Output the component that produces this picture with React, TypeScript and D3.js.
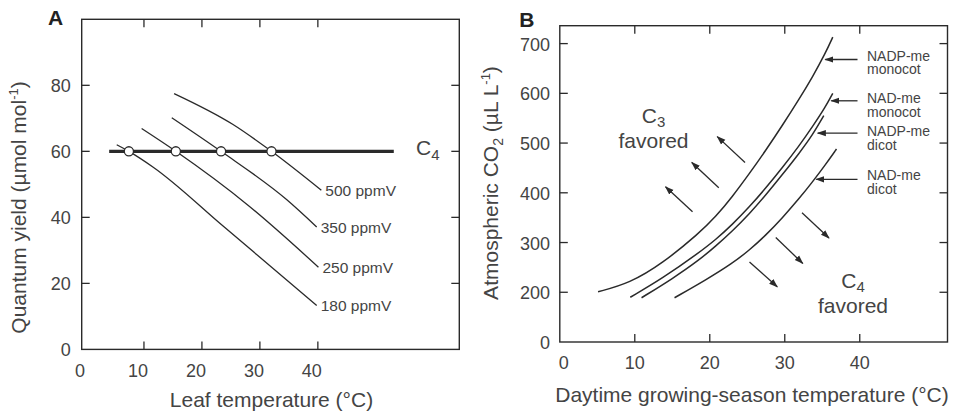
import React, { useRef, useEffect } from 'react'
import * as d3 from 'd3'

// ---- panel A: quantum yield vs leaf temperature ----
const ppmLabels = ['500 ppmV', '350 ppmV', '250 ppmV', '180 ppmV']
const tempA500 = [15.2, 25.3, 32.0, 40.6]
const yieldA500 = [77.5, 68.2, 60, 48.2]
const tempA350 = [14.8, 23.3, 34.6, 39.8]
const yieldA350 = [70.2, 60, 45.4, 37.1]
const tempA250 = [9.6, 15.5, 28.0, 40.1]
const yieldA250 = [66.9, 60, 43.6, 24.9]
const tempA180 = [5.3, 7.4, 11.6, 23.7, 39.8]
const yieldA180 = [62, 60, 55.2, 37.3, 13.3]
const c4Yield = 60
const c4TempRange = [4.0, 53.1]
const crossoverTemps = [7.4, 15.5, 23.3, 32.0]
const ticksAx = [10, 20, 30, 40]
const ticksAy = [20, 40, 60, 80]

// ---- panel B: CO2 vs growing-season temperature ----
const typeNames = ['NADP-me|monocot', 'NAD-me|monocot', 'NADP-me|dicot', 'NAD-me|dicot']
const tempNadpMono = [5.1, 9.3, 13.7, 18.6, 20.8, 23.0, 25.3, 27.5, 29.7, 31.9, 33.7, 35.4, 36.4]
const co2NadpMono = [201, 218, 258, 319, 352, 392, 439, 486, 536, 588, 633, 680, 713]
const tempNadMono = [9.4, 13.7, 18.6, 20.8, 23.0, 25.3, 27.5, 29.7, 31.9, 33.7, 35.4, 36.4]
const co2NadMono = [190, 228, 280, 306, 336, 372, 410, 451, 494, 533, 572, 600]
const tempNadpDi = [10.9, 15.1, 18.6, 20.8, 23.0, 25.3, 27.5, 29.7, 31.9, 33.7, 35.2]
const co2NadpDi = [189, 228, 265, 293, 323, 358, 396, 437, 479, 516, 555]
const tempNadDi = [15.3, 19.5, 23.0, 25.3, 27.5, 29.7, 31.9, 33.7, 35.4, 36.9]
const co2NadDi = [189, 225, 258, 285, 315, 350, 388, 422, 456, 488]
// label arrows: tip temperature / CO2 level, tails at 39.7 °C
const labelArrowTip = [35.4, 36.2, 34.4, 34.2]
const labelArrowCO2 = [668, 585, 520, 427]
const labelArrowTail = 39.7
// direction arrows [x1, y1, x2, y2] (tail -> tip)
const c3Arrows = [
  [24.7, 461, 21.0, 513],
  [21.2, 410, 17.6, 461],
  [17.7, 362, 14.1, 412],
]
const c4Arrows = [
  [32.3, 360, 35.9, 309],
  [28.8, 310, 32.4, 258],
  [25.3, 261, 29.0, 211],
]
const ticksBx = [10, 20, 30, 40]
const ticksBy = [200, 300, 400, 500, 600, 700]

const font = '"Liberation Sans", Arial, Helvetica, sans-serif'
const ink = '#2a2a2a'
const txt = '#444'

const App = () => {
  const svgRef = useRef<SVGSVGElement | null>(null)

  useEffect(() => {
    document.body.style.margin = '0'
    const svg = d3.select(svgRef.current)
    svg.selectAll('*').remove()

    const defs = svg.append('defs')
    defs
      .append('marker')
      .attr('id', 'head')
      .attr('viewBox', '0 0 10 10')
      .attr('refX', 9)
      .attr('refY', 5)
      .attr('markerWidth', 9)
      .attr('markerHeight', 9)
      .attr('markerUnits', 'userSpaceOnUse')
      .attr('orient', 'auto')
      .append('path')
      .attr('d', 'M0,1.5 L10,5 L0,8.5 Z')
      .attr('fill', ink)

    const frame = (
      g: d3.Selection<SVGGElement, unknown, null, undefined>,
      x: d3.ScaleLinear<number, number>,
      y: d3.ScaleLinear<number, number>,
      xt: number[],
      yt: number[]
    ) => {
      const [x0, x1] = x.range()
      const [y0, y1] = y.range()
      const tl = 8
      g.append('rect')
        .attr('x', x0)
        .attr('y', y1)
        .attr('width', x1 - x0)
        .attr('height', y0 - y1)
        .attr('fill', 'none')
        .attr('stroke', ink)
        .attr('stroke-width', 1.4)
      xt.forEach((t) => {
        g.append('line').attr('x1', x(t)).attr('x2', x(t)).attr('y1', y0).attr('y2', y0 - tl).attr('stroke', ink).attr('stroke-width', 1.3)
        g.append('line').attr('x1', x(t)).attr('x2', x(t)).attr('y1', y1).attr('y2', y1 + tl).attr('stroke', ink).attr('stroke-width', 1.3)
      })
      yt.forEach((t) => {
        g.append('line').attr('x1', x0).attr('x2', x0 + tl).attr('y1', y(t)).attr('y2', y(t)).attr('stroke', ink).attr('stroke-width', 1.3)
        g.append('line').attr('x1', x1).attr('x2', x1 - tl).attr('y1', y(t)).attr('y2', y(t)).attr('stroke', ink).attr('stroke-width', 1.3)
      })
    }

    const lineA = d3.line<[number, number]>().curve(d3.curveMonotoneX)
    const lineB = d3.line<[number, number]>().curve(d3.curveBasis)

    // ================= panel A =================
    const xA = d3.scaleLinear().domain([-0.74, 64.4]).range([81.7, 459.3])
    const yA = d3.scaleLinear().domain([0, 100]).range([349.4, 19.3])
    const gA = svg.append('g')
    frame(gA, xA, yA, ticksAx, ticksAy)

    gA.selectAll('text.xt')
      .data([0, ...ticksAx])
      .enter()
      .append('text')
      .attr('x', (d) => xA(d) - 6)
      .attr('y', 376.5)
      .attr('text-anchor', 'middle')
      .attr('font-size', 18)
      .attr('fill', txt)
      .text((d) => d)
    gA.selectAll('text.yt')
      .data([0, ...ticksAy])
      .enter()
      .append('text')
      .attr('x', 70.7)
      .attr('y', (d) => yA(d) + 7)
      .attr('text-anchor', 'end')
      .attr('font-size', 18)
      .attr('fill', txt)
      .text((d) => d)

    const curvesA = [
      [tempA500, yieldA500],
      [tempA350, yieldA350],
      [tempA250, yieldA250],
      [tempA180, yieldA180],
    ]
    curvesA.forEach(([ts, qs], i) => {
      const pts = ts.map((t, j) => [xA(t), yA(qs[j])] as [number, number])
      gA.append('path').attr('d', lineA(pts)).attr('fill', 'none').attr('stroke', ink).attr('stroke-width', 1.3)
      const last = pts[pts.length - 1]
      gA.append('text')
        .attr('x', last[0] + 4)
        .attr('y', last[1] + 6)
        .attr('font-size', 15.5)
        .attr('fill', txt)
        .text(ppmLabels[i])
    })

    gA.append('line')
      .attr('x1', xA(c4TempRange[0]))
      .attr('x2', xA(c4TempRange[1]))
      .attr('y1', yA(c4Yield))
      .attr('y2', yA(c4Yield))
      .attr('stroke', ink)
      .attr('stroke-width', 3.2)
    gA.selectAll('circle')
      .data(crossoverTemps)
      .enter()
      .append('circle')
      .attr('cx', (d) => xA(d))
      .attr('cy', yA(c4Yield))
      .attr('r', 4.6)
      .attr('fill', '#fff')
      .attr('stroke', ink)
      .attr('stroke-width', 1.3)

    const c4A = gA.append('text').attr('x', 416).attr('y', 155).attr('font-size', 21).attr('fill', txt)
    c4A.append('tspan').text('C')
    c4A.append('tspan').attr('font-size', 15).attr('dy', 4.5).text('4')

    gA.append('text')
      .attr('x', 48)
      .attr('y', 24.5)
      .attr('font-size', 21)
      .attr('font-weight', 'bold')
      .attr('fill', '#222')
      .text('A')

    gA.append('text')
      .attr('x', 271.5)
      .attr('y', 407.3)
      .attr('text-anchor', 'middle')
      .attr('font-size', 21)
      .attr('fill', txt)
      .text('Leaf temperature (°C)')
    const yTitleA = gA
      .append('text')
      .attr('transform', 'translate(26,207.5) rotate(-90)')
      .attr('text-anchor', 'middle')
      .attr('font-size', 21)
      .attr('fill', txt)
    yTitleA.append('tspan').text('Quantum yield (µmol mol')
    yTitleA.append('tspan').attr('font-size', 13).attr('dy', -8).text('-1')
    yTitleA.append('tspan').attr('dy', 8).text(')')

    // ================= panel B =================
    const xB = d3.scaleLinear().domain([0, 51.7]).range([559.8, 947.5])
    const yB = d3.scaleLinear().domain([100, 736]).range([342, 25.7])
    const gB = svg.append('g')
    frame(gB, xB, yB, ticksBx, ticksBy)

    gB.selectAll('text.xt')
      .data([0, ...ticksBx])
      .enter()
      .append('text')
      .attr('x', (d) => (d === 0 ? xB(d) + 4 : xB(d)))
      .attr('y', 369)
      .attr('text-anchor', 'middle')
      .attr('font-size', 18)
      .attr('fill', txt)
      .text((d) => d)
    // bottom of the CO2 axis is broken: 100 is drawn as 0
    gB.selectAll('text.yt')
      .data([100, ...ticksBy])
      .enter()
      .append('text')
      .attr('x', 550)
      .attr('y', (d) => yB(d) + 7)
      .attr('text-anchor', 'end')
      .attr('font-size', 18)
      .attr('fill', txt)
      .text((d) => (d === 100 ? 0 : d))

    const curvesB = [
      [tempNadpMono, co2NadpMono],
      [tempNadMono, co2NadMono],
      [tempNadpDi, co2NadpDi],
      [tempNadDi, co2NadDi],
    ]
    curvesB.forEach(([ts, cs]) => {
      const pts = ts.map((t, j) => [xB(t), yB(cs[j])] as [number, number])
      gB.append('path').attr('d', lineB(pts)).attr('fill', 'none').attr('stroke', ink).attr('stroke-width', 1.5)
    })

    const labelBase = [60.7, 103.3, 136, 180]
    typeNames.forEach((name, i) => {
      gB.append('line')
        .attr('x1', xB(labelArrowTail))
        .attr('x2', xB(labelArrowTip[i]))
        .attr('y1', yB(labelArrowCO2[i]))
        .attr('y2', yB(labelArrowCO2[i]))
        .attr('stroke', ink)
        .attr('stroke-width', 1.3)
        .attr('marker-end', 'url(#head)')
      const [a, b] = name.split('|')
      const t = gB.append('text').attr('font-size', 14).attr('fill', txt)
      t.append('tspan').attr('x', 867).attr('y', labelBase[i]).text(a)
      t.append('tspan').attr('x', 867).attr('y', labelBase[i] + 13.5).text(b)
    })

    ;[...c3Arrows, ...c4Arrows].forEach(([x1, y1, x2, y2]) => {
      gB.append('line')
        .attr('x1', xB(x1))
        .attr('y1', yB(y1))
        .attr('x2', xB(x2))
        .attr('y2', yB(y2))
        .attr('stroke', ink)
        .attr('stroke-width', 1.3)
        .attr('marker-end', 'url(#head)')
    })

    const favored = (cx: number, yC: number, sub: string) => {
      const t = gB.append('text').attr('text-anchor', 'middle').attr('font-size', 21).attr('fill', txt)
      t.append('tspan').attr('x', cx).attr('y', yC).text('C')
      t.append('tspan').attr('font-size', 15).attr('dy', 4.5).text(sub)
      gB.append('text')
        .attr('x', cx)
        .attr('y', yC + 25)
        .attr('text-anchor', 'middle')
        .attr('font-size', 21)
        .attr('fill', txt)
        .text('favored')
    }
    favored(653.5, 122.7, '3')
    favored(853, 287.5, '4')

    gB.append('text')
      .attr('x', 519.3)
      .attr('y', 26.7)
      .attr('font-size', 21)
      .attr('font-weight', 'bold')
      .attr('fill', '#222')
      .text('B')

    gB.append('text')
      .attr('x', 752)
      .attr('y', 401.7)
      .attr('text-anchor', 'middle')
      .attr('font-size', 21)
      .attr('fill', txt)
      .text('Daytime growing-season temperature (°C)')
    const yTitleB = gB
      .append('text')
      .attr('transform', 'translate(498.3,183) rotate(-90)')
      .attr('text-anchor', 'middle')
      .attr('font-size', 21)
      .attr('fill', txt)
    yTitleB.append('tspan').text('Atmospheric CO')
    yTitleB.append('tspan').attr('font-size', 14).attr('dy', 5).text('2')
    yTitleB.append('tspan').attr('dy', -5).text(' (µL L')
    yTitleB.append('tspan').attr('font-size', 13).attr('dy', -8).text('-1')
    yTitleB.append('tspan').attr('dy', 8).text(')')
  }, [])

  return (
    <svg
      ref={svgRef}
      width={958}
      height={411}
      style={{ display: 'block', background: '#fff', fontFamily: font }}
    ></svg>
  )
}

export default App
